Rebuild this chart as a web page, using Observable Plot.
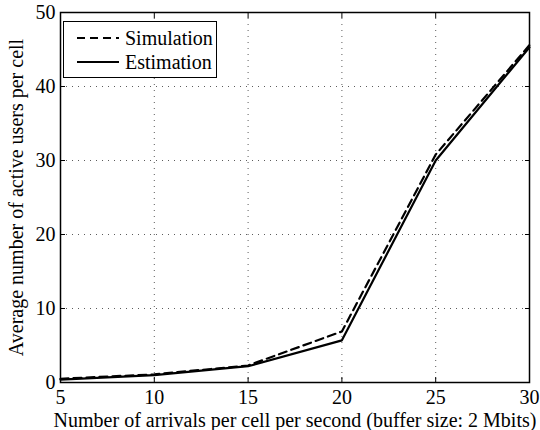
<!DOCTYPE html>
<html><head><meta charset="utf-8">
<script src="https://cdn.jsdelivr.net/npm/d3@7"></script>
<script src="https://cdn.jsdelivr.net/npm/@observablehq/plot@0.6"></script>
<style>
body{margin:0;background:#fff;}
#wrap{position:relative;width:540px;height:430px;font-family:'Liberation Serif','Times New Roman',serif;}
#legend{position:absolute;left:63px;top:21px;width:154px;height:57px;border:1px solid #000;background:#fff;box-sizing:border-box;font-size:20px;font-family:'Liberation Serif',serif;}
#legend .row{position:absolute;left:13px;height:24px;display:flex;align-items:center;white-space:nowrap;}
#legend svg{margin-right:6px;}
</style></head>
<body><div id="wrap"><div id="chart"></div><div id="legend"></div></div>
<script>
const arrivals = [5, 10, 15, 20, 25, 30];
const simulation = [0.5, 1.1, 2.3, 6.9, 30.8, 45.6];
const estimation = [0.4, 1.0, 2.2, 5.7, 30.0, 45.3];
const seriesNames = ["Simulation", "Estimation"];
const xTicks = [5, 10, 15, 20, 25, 30];
const yTicks = [0, 10, 20, 30, 40, 50];

const rows = [];
arrivals.forEach((a, i) => {
  rows.push({x: a, y: simulation[i], s: seriesNames[0]});
  rows.push({x: a, y: estimation[i], s: seriesNames[1]});
});
const dash = {Simulation: "8,5", Estimation: null};

const chart = Plot.plot({
  width: 540, height: 430,
  marginLeft: 60, marginRight: 11, marginTop: 12, marginBottom: 48,
  style: {fontFamily: "'Liberation Serif', serif", fontSize: "20px", color: "#000", background: "#fff"},
  x: {domain: [5, 30]},
  y: {domain: [0, 50]},
  marks: [
    Plot.gridX(xTicks, {stroke: "#333", strokeOpacity: 0.8, strokeDasharray: "1,5", strokeWidth: 1}),
    Plot.gridY(yTicks, {stroke: "#333", strokeOpacity: 0.8, strokeDasharray: "1,5", strokeWidth: 1}),
    Plot.axisX(xTicks, {anchor: "bottom", tickSize: -5, fill: "none", label: null}),
    Plot.axisX(xTicks, {anchor: "top", tickSize: -5, fill: "none", label: null}),
    Plot.axisY(yTicks, {anchor: "left", tickSize: -5, fill: "none", label: null}),
    Plot.axisY(yTicks, {anchor: "right", tickSize: -5, fill: "none", label: null}),
    Plot.axisX(xTicks, {anchor: "bottom", tickSize: 0, tickPadding: 7, fontSize: 20, fontFamily: "Liberation Serif", label: "Number of arrivals per cell per second (buffer size: 2 Mbits)", labelAnchor: "center", labelArrow: "none", labelOffset: 44}),
    Plot.axisY(yTicks, {anchor: "left", tickSize: 0, tickPadding: 5, fontSize: 20, fontFamily: "Liberation Serif", label: "Average number of active users per cell", labelAnchor: "center", labelArrow: "none", labelOffset: 52}),
    ...seriesNames.map(n => Plot.line(rows.filter(r => r.s === n), {x: "x", y: "y", stroke: "#000", strokeWidth: 2.2, strokeDasharray: dash[n]})),
    Plot.frame({stroke: "#000", strokeWidth: 1.5})
  ]
});
document.getElementById("chart").appendChild(chart);

const leg = document.getElementById("legend");
seriesNames.forEach((n, i) => {
  const row = document.createElement("div");
  row.className = "row";
  row.style.top = (4 + i * 24) + "px";
  row.innerHTML = `<svg width="42" height="6"><line x1="0" y1="3" x2="42" y2="3" stroke="#000" stroke-width="2.2" ${dash[n] ? `stroke-dasharray="${dash[n]}"` : ""}/></svg><span>${n}</span>`;
  leg.appendChild(row);
});
</script></body></html>
